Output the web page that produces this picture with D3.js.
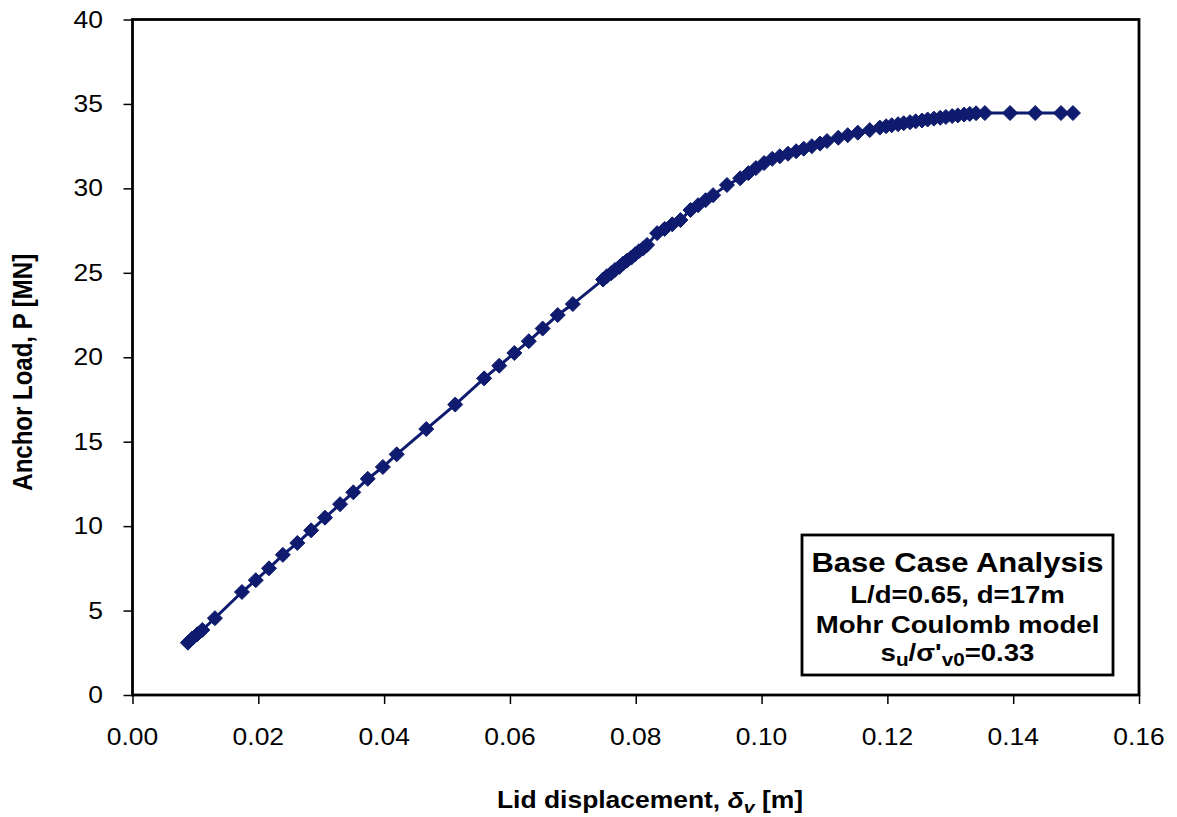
<!DOCTYPE html>
<html>
<head>
<meta charset="utf-8">
<script src="https://cdn.jsdelivr.net/npm/d3@7"></script>
<style>
  body { margin: 0; background: #fff; }
  text { font-family: "Liberation Sans", Arial, sans-serif; fill: #000; }
</style>
</head>
<body>
<div id="chart"></div>
<script>
// lid displacement [m] and anchor load [MN]
const displacement = [
  0.0088, 0.0095, 0.0103, 0.0111, 0.0131,
  0.0174, 0.0196, 0.0217, 0.0239, 0.0262, 0.0284, 0.0306, 0.0330, 0.0351, 0.0374,
  0.0398, 0.0420, 0.0467, 0.0513, 0.0559, 0.0583, 0.0607, 0.0630, 0.0652, 0.0676, 0.0700,
  0.0748, 0.0754, 0.0761, 0.0767, 0.0774, 0.0780, 0.0786, 0.0793, 0.0799, 0.0805, 0.0812, 0.0818,
  0.0834, 0.0846, 0.0858, 0.0871,
  0.0887, 0.0899, 0.0911, 0.0923, 0.0945,
  0.0966, 0.0979, 0.0991, 0.1004, 0.1017, 0.1029, 0.1042, 0.1055, 0.1067, 0.1080, 0.1093,
  0.1104, 0.1122, 0.1137, 0.1153, 0.1172,
  0.1188, 0.1198, 0.1207, 0.1217, 0.1226, 0.1236, 0.1245, 0.1255, 0.1264, 0.1274, 0.1284,
  0.1293, 0.1303, 0.1312, 0.1322, 0.1331, 0.1341,
  0.1355, 0.1395, 0.1435, 0.1476, 0.1495
];
const load = [
  3.1, 3.35, 3.6, 3.85, 4.55,
  6.1, 6.8, 7.5, 8.3, 9.0, 9.75, 10.5, 11.3, 12.0, 12.8,
  13.5, 14.25, 15.75, 17.2, 18.75, 19.5, 20.25, 20.95, 21.7, 22.5, 23.15,
  24.6, 24.8, 24.98, 25.17, 25.35, 25.55, 25.72, 25.9, 26.1, 26.28, 26.45, 26.65,
  27.35, 27.6, 27.87, 28.12,
  28.72, 29.0, 29.3, 29.6, 30.2,
  30.6, 30.9, 31.2, 31.5, 31.75, 31.9, 32.05, 32.2, 32.35, 32.5, 32.65,
  32.8, 33.0, 33.15, 33.3, 33.45,
  33.6, 33.68, 33.74, 33.8, 33.86, 33.92, 33.97, 34.02, 34.08, 34.13, 34.18,
  34.23, 34.28, 34.32, 34.37, 34.41, 34.45,
  34.46, 34.46, 34.46, 34.46, 34.46
];

const xTicks = [0, 0.02, 0.04, 0.06, 0.08, 0.10, 0.12, 0.14, 0.16];
const yTicks = [0, 5, 10, 15, 20, 25, 30, 35, 40];

const boxTitle = "Base Case Analysis";
const boxLines = ["L/d=0.65, d=17m", "Mohr Coulomb model"];

const width = 1177;
const height = 817;
const margin = {top: 19.5, right: 38, bottom: 122, left: 132.5};
const stretch = 1.15;   // the scanned figure is a bit wider than tall
const navy = "#0f1b6e";

const svg = d3.select("#chart").append("svg")
    .attr("width", width)
    .attr("height", height);

const x = d3.scaleLinear()
    .domain([0, 0.16])
    .range([margin.left, width - margin.right]);
const y = d3.scaleLinear()
    .domain([0, 40])
    .range([height - margin.bottom, margin.top]);

// text with the horizontal stretch of the scan
function label(g, px, py, size, weight, anchor) {
    return g.append("text")
        .attr("transform", `translate(${px},${py}) scale(${stretch},1)`)
        .attr("font-size", size)
        .attr("font-weight", weight)
        .attr("text-anchor", anchor);
}

// ticks
svg.append("g")
    .attr("transform", `translate(0,${y(0)})`)
    .call(d3.axisBottom(x).tickValues(xTicks).tickSize(9).tickFormat(""))
    .call(g => g.select(".domain").remove())
    .call(g => g.selectAll("line").attr("stroke", "#000").attr("stroke-width", 1.5));
svg.append("g")
    .attr("transform", `translate(${x(0)},0)`)
    .call(d3.axisLeft(y).tickValues(yTicks).tickSize(9).tickFormat(""))
    .call(g => g.select(".domain").remove())
    .call(g => g.selectAll("line").attr("stroke", "#000").attr("stroke-width", 1.5));

// tick labels
const xl = svg.append("g");
xTicks.forEach(t => label(xl, x(t), 745, 23, "normal", "middle").text(d3.format(".2f")(t)));
const yl = svg.append("g");
yTicks.forEach(t => label(yl, 103, y(t) + 8, 23, "normal", "end").text(t));

// frame
svg.append("rect")
    .attr("x", x(0))
    .attr("y", y(40))
    .attr("width", x(0.16) - x(0))
    .attr("height", y(0) - y(40))
    .attr("fill", "none")
    .attr("stroke", "#000")
    .attr("stroke-width", 2.8);

// curve
const pts = displacement.map((d, i) => [d, load[i]]);
const line = d3.line()
    .x(d => x(d[0]))
    .y(d => y(d[1]));
svg.append("path")
    .datum(pts)
    .attr("d", line)
    .attr("fill", "none")
    .attr("stroke", navy)
    .attr("stroke-width", 3);

const diamond = "M0,-7.5L7.5,0L0,7.5L-7.5,0Z";
svg.append("g")
    .selectAll("path")
    .data(pts)
    .join("path")
    .attr("transform", d => `translate(${x(d[0])},${y(d[1])})`)
    .attr("d", diamond)
    .attr("fill", navy)
    .attr("stroke", navy)
    .attr("stroke-width", 1)
    .attr("stroke-linejoin", "round");

// axis titles
const xt = label(svg, 650, 808, 23, "bold", "middle");
xt.append("tspan").text("Lid displacement, ");
xt.append("tspan").attr("font-style", "italic").text("δ");
xt.append("tspan").attr("font-style", "italic").attr("font-size", 17).attr("dy", 5).text("v");
xt.append("tspan").attr("dy", -5).text(" [m]");

svg.append("text")
    .attr("transform", `translate(32,${(y(0) + y(40)) / 2 + 15}) scale(${stretch},1) rotate(-90)`)
    .attr("font-size", 24)
    .attr("font-weight", "bold")
    .attr("text-anchor", "middle")
    .text("Anchor Load, P [MN]");

// annotation box
const box = svg.append("g");
box.append("rect")
    .attr("x", 802)
    .attr("y", 535)
    .attr("width", 311)
    .attr("height", 140)
    .attr("fill", "#fff")
    .attr("stroke", "#000")
    .attr("stroke-width", 2.8);
const cx = 957.5;
label(box, cx, 572, 27, "bold", "middle").text(boxTitle);
boxLines.forEach((s, i) => label(box, cx, 603 + i * 30, 24, "bold", "middle").text(s));
const last = label(box, cx, 661, 24, "bold", "middle");
last.append("tspan").text("s");
last.append("tspan").attr("font-size", 18).attr("dy", 5).text("u");
last.append("tspan").attr("dy", -5).text("/σ'");
last.append("tspan").attr("font-size", 18).attr("dy", 5).text("v0");
last.append("tspan").attr("dy", -5).text("=0.33");
</script>
</body>
</html>
